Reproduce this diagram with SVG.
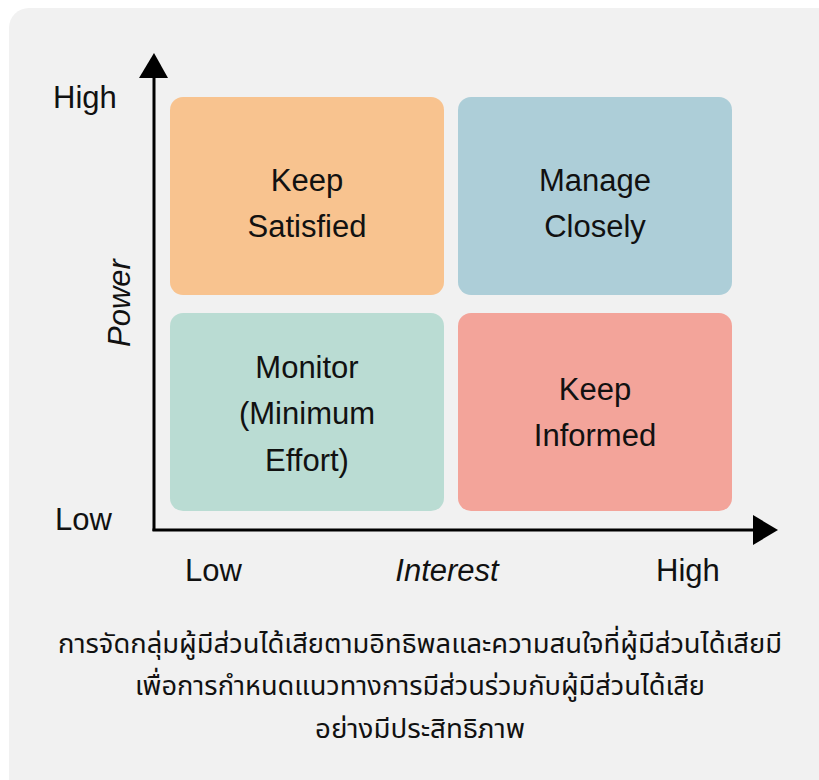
<svg xmlns="http://www.w3.org/2000/svg" width="819" height="780" viewBox="0 0 819 780">
<style>
.lbl{font-family:"Liberation Sans",Arial,sans-serif;font-size:31px;fill:#111;text-anchor:middle}
.ax{font-family:"Liberation Sans",Arial,sans-serif;font-size:31px;fill:#111}
.it{font-style:italic}
.th{font-family:"Noto Sans Thai","Noto Sans","Liberation Sans",sans-serif;font-size:27px;fill:#111;text-anchor:middle}
.box{stroke:none}
</style>
<rect x="0" y="0" width="819" height="780" fill="#ffffff"/>
<rect x="9" y="8" width="840" height="800" rx="20" fill="#f1f1f1"/>
<g id="keep-satisfied">
<rect class="box" x="170" y="97" width="274" height="198" rx="13" fill="#f8c38f"/>
<text class="lbl" x="307" y="191">Keep</text>
<text class="lbl" x="307" y="237">Satisfied</text>
</g>
<g id="manage-closely">
<rect class="box" x="458" y="97" width="274" height="198" rx="13" fill="#adced8"/>
<text class="lbl" x="595" y="191">Manage</text>
<text class="lbl" x="595" y="237">Closely</text>
</g>
<g id="monitor">
<rect class="box" x="170" y="313" width="274" height="198" rx="13" fill="#badcd3"/>
<text class="lbl" x="307" y="378">Monitor</text>
<text class="lbl" x="307" y="424">(Minimum</text>
<text class="lbl" x="307" y="471">Effort)</text>
</g>
<g id="keep-informed">
<rect class="box" x="458" y="313" width="274" height="198" rx="13" fill="#f3a49a"/>
<text class="lbl" x="595" y="400">Keep</text>
<text class="lbl" x="595" y="446">Informed</text>
</g>
<g id="axes" stroke="#000" stroke-width="3" fill="none">
<line x1="154" y1="531" x2="154" y2="78"/>
<path d="M139,78 L154,53 L168,78 Z" fill="#000" stroke="none"/>
<line x1="152.5" y1="530" x2="754" y2="530"/>
<path d="M753,515 L778,530 L753,545 Z" fill="#000" stroke="none"/>
</g>
<g id="axis-labels">
<text class="ax" x="53" y="108">High</text>
<text class="ax" x="55" y="530">Low</text>
<text class="lbl it" x="0" y="0" transform="translate(130,303) rotate(-90)">Power</text>
<text class="ax" x="185" y="581">Low</text>
<text class="lbl it" x="447" y="581">Interest</text>
<text class="ax" x="656" y="581">High</text>
</g>
<g id="caption">
<text class="th" x="420" y="653" textLength="724" lengthAdjust="spacingAndGlyphs">การจัดกลุ่มผู้มีส่วนได้เสียตามอิทธิพลและความสนใจที่ผู้มีส่วนได้เสียมี</text>
<text class="th" x="420" y="695" textLength="570" lengthAdjust="spacingAndGlyphs">เพื่อการกำหนดแนวทางการมีส่วนร่วมกับผู้มีส่วนได้เสีย</text>
<text class="th" x="420" y="738" textLength="210" lengthAdjust="spacingAndGlyphs">อย่างมีประสิทธิภาพ</text>
</g>
</svg>
